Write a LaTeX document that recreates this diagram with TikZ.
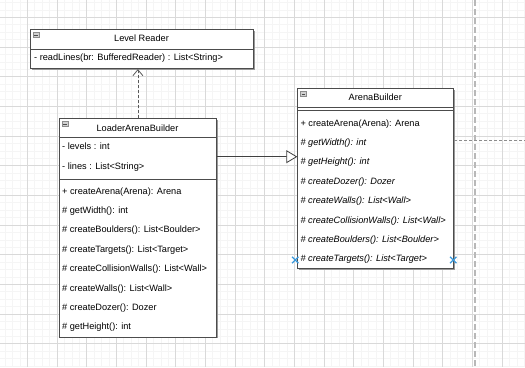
\documentclass[tikz,border=0pt]{standalone}
\usepackage{fontspec}
\setmainfont{Liberation Sans}
\usetikzlibrary{arrows.meta,shadows}
\begin{document}
\begin{tikzpicture}[x=1pt,y=-1pt,
  minorgrid/.style={line width=0.6pt,draw=black!4},
  majorgrid/.style={line width=0.8pt,draw=black!15},
  classbox/.style={draw=black!70,line width=0.8pt,fill=white,anchor=north west,inner sep=0pt,
    drop shadow={shadow xshift=1.2pt,shadow yshift=-1.2pt,fill=black!40,opacity=1}},
  sepline/.style={draw=black!70,line width=0.8pt},
  title/.style={font=\fontsize{9.2}{11}\selectfont,inner sep=0pt},
  member/.style={font=\fontsize{9.2}{11}\selectfont,anchor=west,inner sep=0pt},
  abstractop/.style={member,font=\fontsize{9.2}{11}\selectfont\itshape},
  collapser/.style={draw=black!45,fill=black!18,line width=0.5pt},
  dependency/.style={draw=black!65,line width=0.8pt,dash pattern=on 3pt off 2pt,
    -{Straight Barb[length=6pt,width=10pt,line width=0.8pt]}},
  generalization/.style={draw=black!75,line width=0.8pt,
    -{Triangle[open,length=11pt,width=13pt,fill=white]}},
  marker/.style={draw=cyan!70!blue!80,line width=1.3pt}]

\useasboundingbox (0,0) rectangle (525,367);
\fill[white] (0,0) rectangle (525,367);

% background grid
\foreach \k in {0,...,71} \draw[minorgrid] ({5.05+\k*7.4167},0) -- ++(0,367);
\foreach \k in {0,...,50} \draw[minorgrid] (0,{2.47+\k*7.4167}) -- ++(525,0);
\foreach \k in {0,...,17} \draw[majorgrid] ({27.3+\k*29.667},0) -- ++(0,367);
\foreach \k in {0,...,12} \draw[majorgrid] (0,{17.3+\k*29.667}) -- ++(525,0);

% page break guide
\draw[black!28,line width=2pt,dash pattern=on 6pt off 3pt] (474.7,0) -- (474.7,367);

% LevelReader
\node[classbox,minimum width=223pt,minimum height=39pt] (lr) at (30,29.3) {};
\draw[sepline] ([yshift=-19.7pt]lr.north west) -- ([yshift=-19.7pt]lr.north east);
\node[title] (lrt) at ([shift={(111.5,9.2)}]lr.north west) {Level Reader};
\node[member] (lr1) at ([shift={(4,28.7)}]lr.north west) {- readLines(br: BufferedReader) : List<String>};
\draw[collapser] ([shift={(3,3)}]lr.north west) rectangle ++(6,5);
\draw[black!70,line width=0.5pt] ([shift={(4.3,5.5)}]lr.north west) -- ++(3.4,0);

% LoaderArenaBuilder
\node[classbox,minimum width=157pt,minimum height=218.5pt] (lab) at (59,118.3) {};
\draw[sepline] ([yshift=-19pt]lab.north west) -- ([yshift=-19pt]lab.north east);
\draw[sepline] ([yshift=-61pt]lab.north west) -- ([yshift=-61pt]lab.north east);
\node[title] (labt) at ([shift={(78.5,9.6)}]lab.north west) {LoaderArenaBuilder};
\draw[collapser] ([shift={(3,3)}]lab.north west) rectangle ++(6,5);
\draw[black!70,line width=0.5pt] ([shift={(4.3,5.5)}]lab.north west) -- ++(3.4,0);
\node[member] (l1) at ([shift={(3,28.4)}]lab.north west) {- levels : int};
\node[member] (l2) at ([shift={(3,48.4)}]lab.north west) {- lines : List<String>};
\node[member] (l3) at ([shift={(3,73.4)}]lab.north west) {+ createArena(Arena): Arena};
\node[member] (l4) at ([shift={(3,92.4)}]lab.north west) {\# getWidth(): int};
\node[member] (l5) at ([shift={(3,111.7)}]lab.north west) {\# createBoulders(): List<Boulder>};
\node[member] (l6) at ([shift={(3,131.7)}]lab.north west) {\# createTargets(): List<Target>};
\node[member] (l7) at ([shift={(3,150.7)}]lab.north west) {\# createCollisionWalls(): List<Wall>};
\node[member] (l8) at ([shift={(3,170.7)}]lab.north west) {\# createWalls(): List<Wall>};
\node[member] (l9) at ([shift={(3,190)}]lab.north west) {\# createDozer(): Dozer};
\node[member] (l10) at ([shift={(3,209)}]lab.north west) {\# getHeight(): int};

% ArenaBuilder
\node[classbox,minimum width=156pt,minimum height=180pt] (ab) at (297.3,88.3) {};
\draw[sepline] ([yshift=-19.4pt]ab.north west) -- ([yshift=-19.4pt]ab.north east);
\draw[sepline] ([yshift=-22.4pt]ab.north west) -- ([yshift=-22.4pt]ab.north east);
\node[title] (abt) at ([shift={(78,9.2)}]ab.north west) {ArenaBuilder};
\draw[collapser] ([shift={(3,3)}]ab.north west) rectangle ++(6,5);
\draw[black!70,line width=0.5pt] ([shift={(4.3,5.5)}]ab.north west) -- ++(3.4,0);
\node[member] (a1) at ([shift={(3,35.4)}]ab.north west) {+ createArena(Arena): Arena};
\node[abstractop] (a2) at ([shift={(3,54.4)}]ab.north west) {\# getWidth(): int};
\node[abstractop] (a3) at ([shift={(3,73.4)}]ab.north west) {\# getHeight(): int};
\node[abstractop] (a4) at ([shift={(3,94)}]ab.north west) {\# createDozer(): Dozer};
\node[abstractop] (a5) at ([shift={(3,113)}]ab.north west) {\# createWalls(): List<Wall>};
\node[abstractop] (a6) at ([shift={(3,132.4)}]ab.north west) {\# createCollisionWalls(): List<Wall>};
\node[abstractop] (a7) at ([shift={(3,151.7)}]ab.north west) {\# createBoulders(): List<Boulder>};
\node[abstractop] (a8) at ([shift={(3,170.7)}]ab.north west) {\# createTargets(): List<Target>};

% connectors
\draw[dependency] (lab.north) -- (lab.north |- lr.south);
\draw[generalization] ([yshift=-38.4pt]lab.north east) -- ([yshift=-38.4pt]lab.north east -| ab.west);
\coordinate (rim) at (525,140.7);
\draw[black!45,line width=0.8pt,dash pattern=on 3pt off 2pt] ([yshift=-52.4pt]ab.north east) -- (rim);

% selection handles
\foreach \p in {(295.3,260),(453.3,260)} {
  \draw[marker] \p ++(-3.2,-3.2) -- ++(6.4,6.4);
  \draw[marker] \p ++(-3.2,3.2) -- ++(6.4,-6.4);
}
\end{tikzpicture}
\end{document}
